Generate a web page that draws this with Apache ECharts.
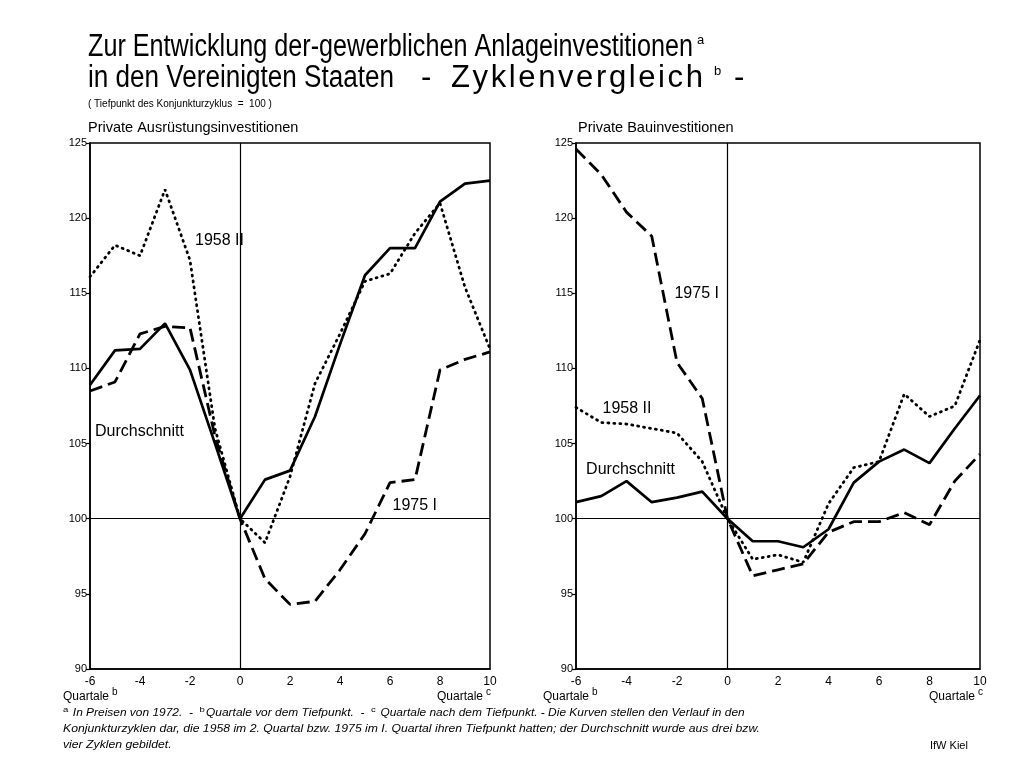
<!DOCTYPE html>
<html>
<head>
<meta charset="utf-8">
<script src="https://cdn.jsdelivr.net/npm/echarts@6/dist/echarts.min.js"></script>
<style>
  html, body { margin: 0; padding: 0; background: #fff; }
  #chart { width: 1012px; height: 764px; }
</style>
</head>
<body>
<div id="chart"></div>
<script>
// Quartale relativ zum Tiefpunkt (0 = Tiefpunkt des Konjunkturzyklus = 100)
const quarters = [-6, -5, -4, -3, -2, -1, 0, 1, 2, 3, 4, 5, 6, 7, 8, 9, 10]

// Private Ausruestungsinvestitionen
const equipAvg = [108.9, 111.2, 111.3, 113.0, 109.9, 105.0, 100, 102.6, 103.2, 106.8, 111.6, 116.2, 118.0, 118.0, 121.1, 122.3, 122.5]
const equip1958 = [116.1, 118.2, 117.5, 121.9, 117.2, 106.0, 100, 98.4, 102.8, 109.0, 112.3, 115.8, 116.3, 119.0, 121.0, 115.4, 111.3]
const equip1975 = [108.5, 109.1, 112.3, 112.8, 112.7, 105.5, 100, 96.0, 94.3, 94.5, 96.6, 99.0, 102.4, 102.6, 109.9, 110.6, 111.1]

// Private Bauinvestitionen
const buildAvg = [101.1, 101.5, 102.5, 101.1, 101.4, 101.8, 100, 98.5, 98.5, 98.1, 99.3, 102.4, 103.8, 104.6, 103.7, 106.0, 108.2]
const build1958 = [107.4, 106.4, 106.3, 106.0, 105.7, 103.8, 100, 97.3, 97.6, 97.1, 101.0, 103.4, 103.8, 108.3, 106.8, 107.5, 111.9]
const build1975 = [124.6, 122.9, 120.4, 118.8, 110.4, 108.0, 100, 96.2, 96.6, 97.0, 99.1, 99.8, 99.8, 100.4, 99.6, 102.5, 104.3]

// Achsen
const xMin = -6, xMax = 10, xStep = 2
const yMin = 90, yMax = 125, yStep = 5
const baseLevel = 100

// Kurvenbeschriftungen [Quartal, Wert]
const equipLabels = [
  { name: '1958 II', at: [-1.8, 118.5] },
  { name: 'Durchschnitt', at: [-5.8, 105.8] },
  { name: '1975 I', at: [6.1, 100.9] }
]
const buildLabels = [
  { name: '1975 I', at: [-2.1, 115.0] },
  { name: '1958 II', at: [-4.95, 107.3] },
  { name: 'Durchschnitt', at: [-5.6, 103.3] }
]

const FONT = '"Liberation Sans", Arial, sans-serif'

const pairs = vals => quarters.map((q, i) => [q, vals[i]])

function fitScale(str, font, width) {
  const ctx = document.createElement('canvas').getContext('2d')
  ctx.font = font
  return width / ctx.measureText(str).width
}

// leichte Sperrung wie in der Vorlage
const spaced = s => s.split('').join('\u200A')

function makeSeries(gridIdx, avg, s1958, s1975, labels) {
  const base = {
    type: 'line',
    xAxisIndex: gridIdx,
    yAxisIndex: gridIdx,
    showSymbol: false,
    symbol: 'none',
    silent: true
  }
  const labelPoints = {
    symbol: 'circle',
    symbolSize: 0,
    silent: true,
    label: {
      show: true,
      position: 'right',
      distance: 0,
      color: '#000',
      fontSize: 16,
      fontFamily: FONT,
      formatter: p => p.name
    },
    data: labels.map(l => ({ name: l.name, coord: l.at }))
  }
  return [
    Object.assign({}, base, {
      name: 'Durchschnitt',
      data: pairs(avg),
      lineStyle: { color: '#000', width: 2.7 },
      z: 4,
      markLine: {
        silent: true,
        symbol: ['none', 'none'],
        label: { show: false },
        lineStyle: { color: '#000', type: 'solid', width: 1.2 },
        data: [{ xAxis: 0 }, { yAxis: baseLevel }]
      },
      markPoint: labelPoints
    }),
    Object.assign({}, base, {
      name: '1958 II',
      data: pairs(s1958),
      lineStyle: { color: '#000', width: 2.8, type: [1, 5], cap: 'round' },
      z: 3
    }),
    Object.assign({}, base, {
      name: '1975 I',
      data: pairs(s1975),
      lineStyle: { color: '#000', width: 2.8, type: [13, 6] },
      z: 3
    })
  ]
}

function axisX(i) {
  return {
    gridIndex: i,
    type: 'value',
    min: xMin,
    max: xMax,
    interval: xStep,
    axisLine: { onZero: false, lineStyle: { color: '#000', width: 1.5 } },
    axisTick: { show: false },
    splitLine: { show: false },
    axisLabel: { color: '#000', fontSize: 12, fontFamily: FONT, margin: 7 }
  }
}

function axisY(i) {
  return {
    gridIndex: i,
    type: 'value',
    min: yMin,
    max: yMax,
    interval: yStep,
    axisLine: { onZero: false, lineStyle: { color: '#000', width: 1.5 } },
    axisTick: { show: true, length: 4, lineStyle: { color: '#000', width: 1.2 } },
    splitLine: { show: false },
    axisLabel: { color: '#000', fontSize: 11, fontFamily: FONT, margin: 3 }
  }
}

const titleFont = '31px ' + FONT
const title1 = 'Zur Entwicklung der-gewerblichen Anlageinvestitionen'
const title2a = 'in den Vereinigten Staaten'
const title2b = spaced('Zyklenvergleich')
const title1Scale = fitScale(title1, titleFont, 605)
const title2aScale = fitScale(title2a, titleFont, 306)
const title2bScale = fitScale(title2b, titleFont, 252)

const supRich = { s: { fontSize: 8, fontStyle: 'normal', verticalAlign: 'top', padding: [0, 1, 6, 0] } }
const foot1 = '{s|a} In Preisen von 1972.  -  {s|b}Quartale vor dem Tiefpunkt.  -  {s|c} Quartale nach dem Tiefpunkt. - Die Kurven stellen den Verlauf in den'
const foot1Plain = 'a In Preisen von 1972.  -  bQuartale vor dem Tiefpunkt.  -  c Quartale nach dem Tiefpunkt. - Die Kurven stellen den Verlauf in den'
const foot2 = 'Konjunkturzyklen dar, die 1958 im 2. Quartal bzw. 1975 im I. Quartal ihren Tiefpunkt hatten; der Durchschnitt wurde aus drei bzw.'
const foot3 = 'vier Zyklen gebildet.'
const footFont = 'italic 10px ' + FONT
const foot1Scale = fitScale(foot1Plain, footFont, 682)
const foot2Scale = fitScale(foot2, footFont, 697)

function txt(x, y, text, style, extra) {
  return Object.assign({
    type: 'text',
    x: x,
    y: y,
    silent: true,
    style: Object.assign({ text: text, fill: '#000', font: '12px ' + FONT, verticalAlign: 'middle' }, style)
  }, extra || {})
}

const chart = echarts.init(document.getElementById('chart'), null, { renderer: 'canvas' })

chart.setOption({
  animation: false,
  backgroundColor: '#fff',
  grid: [
    { left: 90, top: 143, width: 400, height: 526, show: true, borderColor: '#000', borderWidth: 1.5 },
    { left: 576, top: 143, width: 404, height: 526, show: true, borderColor: '#000', borderWidth: 1.5 }
  ],
  xAxis: [axisX(0), axisX(1)],
  yAxis: [axisY(0), axisY(1)],
  series: makeSeries(0, equipAvg, equip1958, equip1975, equipLabels)
    .concat(makeSeries(1, buildAvg, build1958, build1975, buildLabels)),
  graphic: [
    // Titel
    txt(88, 47, title1, { font: titleFont }, { scaleX: title1Scale }),
    txt(697, 40, 'a', { font: '13px ' + FONT }),
    txt(88, 78, title2a, { font: titleFont }, { scaleX: title2aScale }),
    txt(421, 78, '-', { font: titleFont }),
    txt(451, 78, title2b, { font: titleFont }, { scaleX: title2bScale }),
    txt(714, 71, 'b', { font: '13px ' + FONT }),
    txt(734, 78, '-', { font: titleFont }),
    txt(88, 104, '( Tiefpunkt des Konjunkturzyklus  =  100 )', { font: '10px ' + FONT }),
    txt(88, 128, 'Private Ausrüstungsinvestitionen', { font: '14.5px ' + FONT }),
    txt(578, 128, 'Private Bauinvestitionen', { font: '14.5px ' + FONT }),
    // Achsenbeschriftungen
    txt(63, 697, 'Quartale', { font: '12px ' + FONT }),
    txt(112, 692, 'b', { font: '10px ' + FONT }),
    txt(437, 697, 'Quartale', { font: '12px ' + FONT }),
    txt(486, 692, 'c', { font: '10px ' + FONT }),
    txt(543, 697, 'Quartale', { font: '12px ' + FONT }),
    txt(592, 692, 'b', { font: '10px ' + FONT }),
    txt(929, 697, 'Quartale', { font: '12px ' + FONT }),
    txt(978, 692, 'c', { font: '10px ' + FONT }),
    // Fussnoten
    txt(63, 713, foot1, { font: footFont, rich: supRich }, { scaleX: foot1Scale }),
    txt(63, 729, foot2, { font: footFont }, { scaleX: foot2Scale }),
    txt(63, 745, foot3, { font: footFont }, { scaleX: foot2Scale }),
    txt(930, 746, 'IfW Kiel', { font: '11px ' + FONT })
  ]
})
</script>
</body>
</html>
